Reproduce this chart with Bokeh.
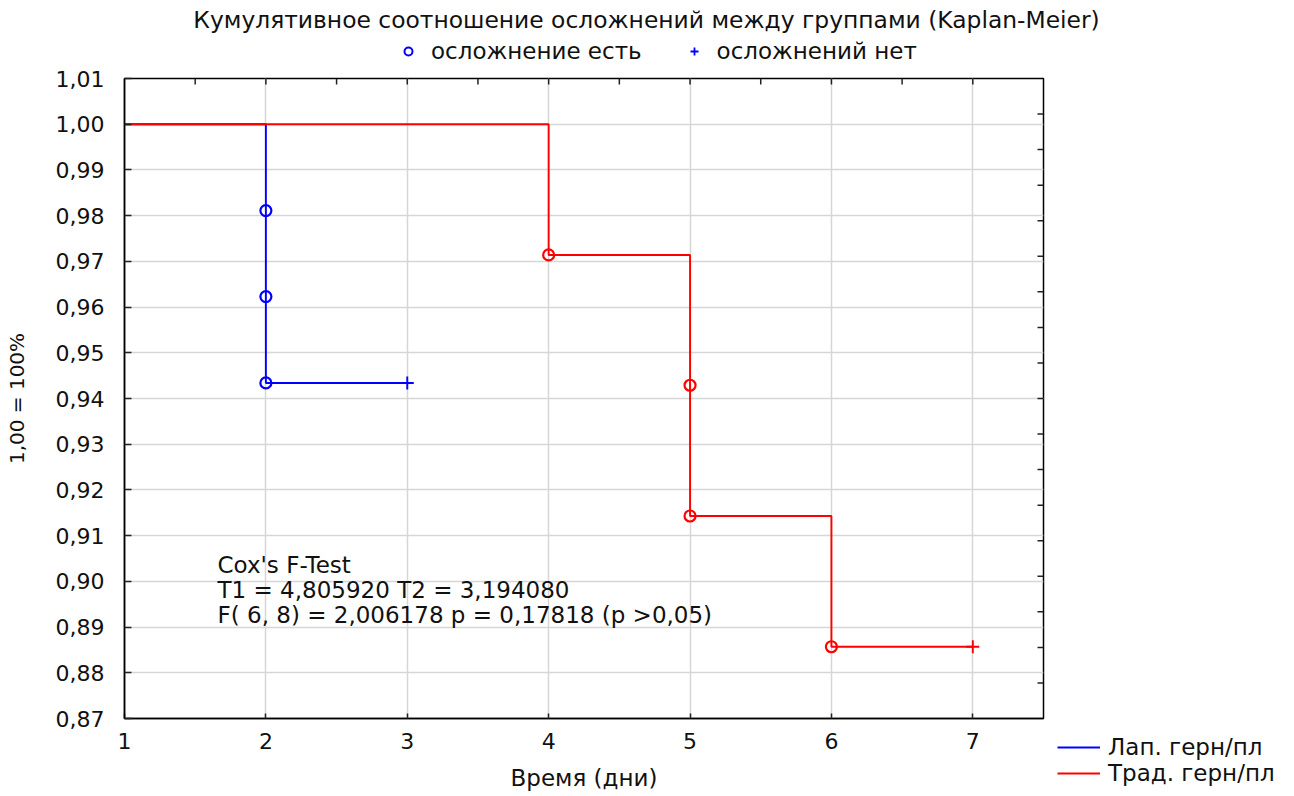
import math
from bokeh.plotting import figure
from bokeh.layouts import column, row
from bokeh.models import (Range1d, FixedTicker, CustomJSTickFormatter, Label, Legend, LegendItem)
from bokeh.embed import file_html
from bokeh.resources import INLINE

# ---- data ----
lap_step_t = [1, 2, 3]
lap_step_s = [1.0, 0.9434, 0.9434]
lap_event_t = [2, 2, 2]
lap_event_s = [0.9811, 0.9623, 0.9434]
lap_cens_t = [3]
lap_cens_s = [0.9434]

trad_step_t = [1, 4, 5, 6, 7]
trad_step_s = [1.0, 0.9714, 0.9143, 0.8857, 0.8857]
trad_event_t = [4, 5, 5, 6]
trad_event_s = [0.9714, 0.9429, 0.9143, 0.8857]
trad_cens_t = [7]
trad_cens_s = [0.8857]

x_min, x_max = 1, 7.5
y_min, y_max = 0.87, 1.01
x_ticks = [1, 2, 3, 4, 5, 6, 7]
top_ticks = [1.5, 2, 2.5, 3, 3.5, 4, 4.5, 5, 5.5, 6, 6.5, 7]
y_ticks = [0.87, 0.88, 0.89, 0.90, 0.91, 0.92, 0.93, 0.94, 0.95, 0.96, 0.97, 0.98, 0.99, 1.00, 1.01]
right_ticks = list(range(1, 18))

title_text = "Кумулятивное соотношение осложнений между группами (Kaplan-Meier)"
stats_lines = ["Cox's F-Test",
               "T1 = 4,805920 T2 = 3,194080",
               "F( 6, 8) = 2,006178 p = 0,17818 (p >0,05)"]
group_labels = ["Лап. герн/пл", "Трад. герн/пл"]
marker_labels = ["осложнение есть", "осложнений нет"]

FONT = "DejaVu Sans"
BLUE = "#0000ff"
RED = "#ff0000"
TXT = "#111111"
TICK = "#222222"

HEADER_H = 64
MAIN_W, MAIN_H = 1045, 732
SIDE_W = 1294 - MAIN_W

# ================= header (title + marker legend) =================
# legend-key renderers use the real data, which lies outside this panel's (empty) view
hd = figure(width=1294, height=HEADER_H, x_axis_type=None, y_axis_type=None,
            x_range=Range1d(-1, 0), y_range=Range1d(-1, 0),
            output_backend="svg", toolbar_location=None, min_border=0,
            outline_line_color=None, background_fill_color="white", border_fill_color="white")
hd.frame_align = False
hd.add_layout(Label(x=646, y=HEADER_H - 19, x_units="screen", y_units="screen",
                    text=title_text, text_font=FONT, text_font_size="23.4px",
                    text_align="center", text_baseline="middle", text_color=TXT))
key_circle = hd.scatter(lap_event_t, lap_event_s, marker="circle", size=10, fill_color=None,
                        line_color=BLUE, line_width=2)
key_cross = hd.scatter(lap_cens_t, lap_cens_s, marker="cross", size=12,
                       line_color=BLUE, line_width=1.8)
leg_top = Legend(items=[LegendItem(label=marker_labels[0], renderers=[key_circle]),
                        LegendItem(label=marker_labels[1], renderers=[key_cross])],
                 orientation="horizontal", location=(398, 0),
                 label_text_font=FONT, label_text_font_size="23px", label_text_color=TXT,
                 glyph_width=20, label_standoff=13, spacing=42, padding=0, margin=0,
                 border_line_color=None, background_fill_alpha=0)
hd.add_layout(leg_top, "center")

# ================= main plot =================
p = figure(width=MAIN_W, height=MAIN_H, x_range=Range1d(x_min, x_max),
           y_range=Range1d(y_min, y_max),
           output_backend="svg", toolbar_location=None,
           min_border_left=124, min_border_right=2, min_border_top=14, min_border_bottom=78,
           background_fill_color="white", border_fill_color="white")
p.extra_y_ranges = {"right": Range1d(0, 18)}

fmt = CustomJSTickFormatter(code="return tick.toFixed(2).replace('.', ',');")
p.xaxis.ticker = FixedTicker(ticks=x_ticks)
p.yaxis.ticker = FixedTicker(ticks=y_ticks)
p.yaxis.formatter = fmt
p.xaxis.axis_label = "Время (дни)"
p.yaxis.axis_label = "1,00 = 100%"

for ax in (p.xaxis[0], p.yaxis[0]):
    ax.major_label_text_font = FONT
    ax.major_label_text_font_size = "22px"
    ax.major_label_text_color = TXT
    ax.axis_label_text_font = FONT
    ax.axis_label_text_font_size = "23px"
    ax.axis_label_text_font_style = "normal"
    ax.axis_label_text_color = TXT
    ax.major_tick_out = 0
    ax.major_tick_line_color = TICK
    ax.major_tick_line_width = 1.5
    ax.minor_tick_line_color = None
    ax.axis_line_color = "#000000"
    ax.axis_line_width = 1.5

p.yaxis.major_tick_in = 7
p.xaxis.major_tick_in = 5
p.yaxis.axis_label_text_font_size = "20px"
p.yaxis.major_label_standoff = 20
p.yaxis.axis_label_standoff = 24
p.xaxis.major_label_standoff = 14
p.xaxis.axis_label_standoff = 13

p.outline_line_color = "#000000"
p.outline_line_width = 1.5
p.xgrid.grid_line_color = "#d6d6d6"
p.ygrid.grid_line_color = "#d6d6d6"
p.xgrid.grid_line_width = 1.5
p.ygrid.grid_line_width = 1.5

# inward tick marks along the top and right edges
p.ray(x=top_ticks, y=[y_max] * len(top_ticks), length=6, length_units="screen",
      angle=-math.pi / 2, line_color=TICK, line_width=1.5)
p.ray(x=[x_max] * len(right_ticks), y=right_ticks, y_range_name="right", length=6,
      length_units="screen", angle=math.pi, line_color=TICK, line_width=1.5)

# ---- curves ----
p.step(lap_step_t, lap_step_s, mode="after", line_color=BLUE, line_width=1.9)
p.step(trad_step_t, trad_step_s, mode="after", line_color=RED, line_width=1.9)

p.scatter(lap_event_t, lap_event_s, marker="circle", size=11, fill_color=None,
          line_color=BLUE, line_width=2.2)
p.scatter(lap_cens_t, lap_cens_s, marker="cross", size=13, line_color=BLUE, line_width=1.9)
p.scatter(trad_event_t, trad_event_s, marker="circle", size=11, fill_color=None,
          line_color=RED, line_width=2.2)
p.scatter(trad_cens_t, trad_cens_s, marker="cross", size=13, line_color=RED, line_width=1.9)

# ---- stats text ----
for txt, yy in zip(stats_lines, [154, 129, 104]):
    p.add_layout(Label(x=93, y=yy, x_units="screen", y_units="screen", text=txt,
                       text_font=FONT, text_font_size="23px", text_align="left",
                       text_baseline="middle", text_color=TXT))

# ================= side (group legend) =================
sd = figure(width=SIDE_W, height=MAIN_H, x_axis_type=None, y_axis_type=None,
            x_range=Range1d(-1, 0), y_range=Range1d(-1, 0),
            output_backend="svg", toolbar_location=None, min_border=0,
            outline_line_color=None, background_fill_color="white", border_fill_color="white")
sd.frame_align = False
key_lap = sd.line(lap_step_t, lap_step_s, line_color=BLUE, line_width=1.9)
key_trad = sd.line(trad_step_t, trad_step_s, line_color=RED, line_width=1.9)
leg_bot = Legend(items=[LegendItem(label=group_labels[0], renderers=[key_lap]),
                        LegendItem(label=group_labels[1], renderers=[key_trad])],
                 orientation="vertical", location=(12, 10),
                 label_text_font=FONT, label_text_font_size="23px", label_text_color=TXT,
                 glyph_width=43, label_standoff=8, spacing=0, padding=0, margin=0,
                 border_line_color=None, background_fill_alpha=0)
sd.add_layout(leg_bot, "center")

layout = column(hd, row(p, sd, spacing=0), spacing=0)
open("out.html", "w").write(file_html(layout, INLINE))
